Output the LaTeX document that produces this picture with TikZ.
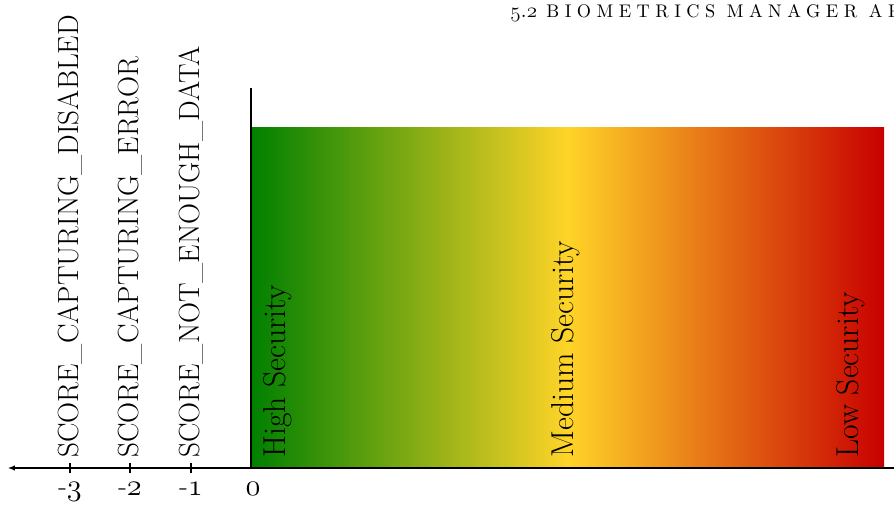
\documentclass[tikz,border=0pt]{standalone}
\usepackage{fontspec}
\setmainfont{Latin Modern Roman}
\usetikzlibrary{arrows.meta}
\definecolor{secgreen}{RGB}{0,128,0}
\definecolor{secyellow}{RGB}{255,212,40}
\definecolor{secred}{RGB}{200,0,0}
% Mediaevalziffern aus cmm
\newcommand{\osnum}[1]{{\usefont{OML}{cmm}{m}{it}#1}}
\begin{document}
\begin{tikzpicture}[x=0.02cm,y=0.02cm,
	vlabel/.style={rotate=90,anchor=west,inner sep=0pt,font=\fontsize{16.6}{20}\selectfont},
	seclabel/.style={vlabel,font=\fontsize{18}{21}\selectfont},
	tlabel/.style={below,inner sep=2pt,font=\fontsize{16}{19}\selectfont}]
	\useasboundingbox (0,0) rectangle (894,508);
	
	% Kopfzeile der Seite
	\node[anchor=base west,inner sep=0pt,font=\fontsize{10.4}{12}\selectfont\addfontfeatures{LetterSpace=30}] (head) at (510,490) {{\fontsize{13}{14}\selectfont\osnum{5}.\osnum{2}}\hspace{0.5em}BIOMETRICS MANAGER API};
	
	% Farbverlauf (gruen -> gelb -> rot)
	\shade[left color=secgreen, right color=secred, middle color=secyellow] (251,40) rectangle (884,380);
	
	% Achsen
	\coordinate (o) at (251,40);
	\coordinate (top) at (251,420);
	\coordinate (xend) at (8,40);
	\coordinate (xstart) at (900,40);
	\draw[line width=0.6pt, -{Latex[length=1.4mm,width=1.1mm]}] (xstart) -- (xend);
	\draw[line width=0.6pt] (o) -- (top);
	\node[tlabel] (t0) at (253,29) {\osnum{0}};
	
	% Fehlerwerte (negativ)
	\foreach \v/\x/\txt in {3/70/SCORE\_CAPTURING\_DISABLED, 2/130/SCORE\_CAPTURING\_ERROR, 1/191/SCORE\_NOT\_ENOUGH\_DATA} {
		\draw[line width=0.6pt] (\x,35) -- (\x,45);
		\node[tlabel] (t\v) at (\x,29) {-\osnum{\v}};
		\node[vlabel] (s\v) at (\x,50) {\txt};
	}
	
	% Sicherheitsstufen
	\node[seclabel] (high) at (278,50) {High Security};
	\node[seclabel] (medium) at (566,50) {Medium Security};
	\node[seclabel] (low) at (851,50) {Low Security};
	
\end{tikzpicture}
\end{document}
